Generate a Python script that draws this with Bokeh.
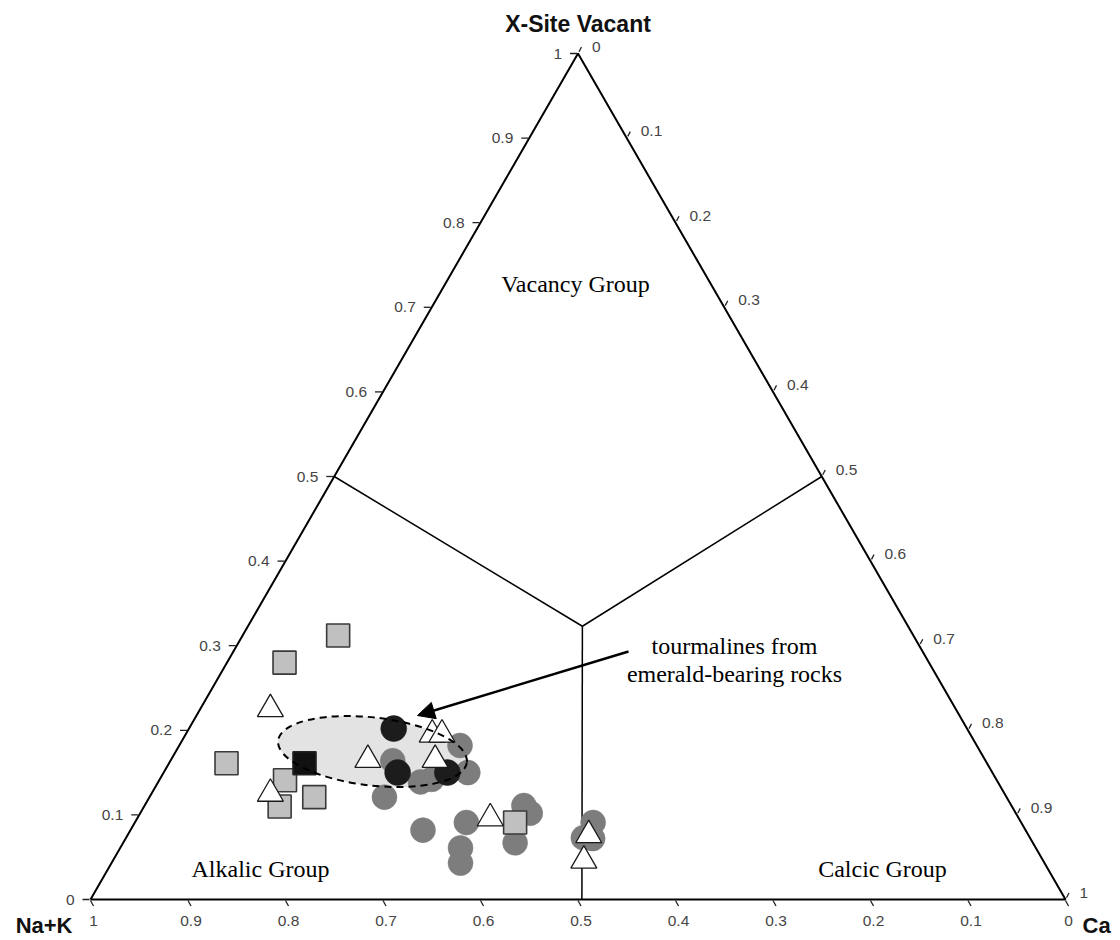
import numpy as np
from bokeh.plotting import figure
from bokeh.models import Range1d, Arrow, NormalHead
from bokeh.core.properties import value
from bokeh.embed import file_html
from bokeh.resources import INLINE

# ---- data: ternary fractions (Ca, X-site vacancy); Na+K = 1 - Ca - Vac ----
gray_circle_ca  = [0.228, 0.269, 0.279, 0.241, 0.288, 0.312, 0.300, 0.340, 0.349, 0.358,
                   0.389, 0.400, 0.402, 0.470, 0.469, 0.479]
gray_circle_vac = [0.164, 0.139, 0.142, 0.121, 0.182, 0.150, 0.082, 0.091, 0.061, 0.043,
                   0.111, 0.102, 0.067, 0.091, 0.073, 0.072]

black_circle_ca  = [0.210, 0.240, 0.291]
black_circle_vac = [0.202, 0.150, 0.150]

gray_square_ca  = [0.098, 0.059, 0.059, 0.129, 0.139, 0.169, 0.390]
gray_square_vac = [0.312, 0.280, 0.161, 0.141, 0.110, 0.121, 0.091]

black_square_ca  = [0.139]
black_square_vac = [0.161]

triangle_ca  = [0.072, 0.202, 0.122, 0.253, 0.263, 0.271, 0.362, 0.473, 0.483]
triangle_vac = [0.225, 0.165, 0.125, 0.195, 0.195, 0.165, 0.096, 0.076, 0.046]

# field boundaries: start points (Ca, Vac) and the common junction
boundary_start_ca  = [0.0, 0.5, 0.504]
boundary_start_vac = [0.5, 0.5, 0.0]
junction_ca, junction_vac = 0.343, 0.323

tick_values = [0.0, 0.1, 0.2, 0.3, 0.4, 0.5, 0.6, 0.7, 0.8, 0.9, 1.0]
tick_labels = ["0", "0.1", "0.2", "0.3", "0.4", "0.5", "0.6", "0.7", "0.8", "0.9", "1"]

# ---- ternary -> cartesian (triangle with base 0..1, apex at height 1) ----
def tx(ca, vac):
    return np.asarray(ca, float) + np.asarray(vac, float) / 2.0

def ty(vac):
    return np.asarray(vac, float)

PX_X = 975.0   # screen px per data unit (x)
PX_Y = 846.0   # screen px per data unit (y)
X0, Y0 = 90.0, 899.0   # page position of the Na+K corner

p = figure(width=1120, height=940, output_backend="svg", toolbar_location=None,
           x_range=Range1d((0 - X0) / PX_X, (1120 - X0) / PX_X),
           y_range=Range1d((Y0 - 940) / PX_Y, (Y0 - 0) / PX_Y),
           x_axis_location=None, y_axis_location=None, min_border=0)
p.grid.visible = False
p.outline_line_color = None
p.background_fill_color = "white"

def px(xp):
    return (xp - X0) / PX_X

def py(yp):
    return (Y0 - yp) / PX_Y

# ---- triangle frame ----
corner_ca = [0, 1, 0, 0]
corner_vac = [0, 0, 1, 0]
p.line(tx(corner_ca, corner_vac), ty(corner_vac), line_color="black", line_width=2)

# ---- field boundaries ----
jx, jy = float(tx(junction_ca, junction_vac)), float(ty(junction_vac))
p.segment(x0=tx(boundary_start_ca, boundary_start_vac), y0=ty(boundary_start_vac),
          x1=[jx] * 3, y1=[jy] * 3, line_color="black", line_width=1.5)

# ---- ticks ----
tv = np.array(tick_values)
tick_len = 8.0
lx = tx(0, tv); ly = ty(tv)
p.segment(x0=lx - 1 / PX_X, y0=ly, x1=lx - tick_len / PX_X, y1=ly, line_color="#222", line_width=1.3)
rx = tx(tv, 1 - tv); ry = ty(1 - tv)
p.segment(x0=rx + 1 / PX_X, y0=ry + 1.7 / PX_Y, x1=rx + 3.5 / PX_X, y1=ry + 6.5 / PX_Y,
          line_color="#222", line_width=1.3)
bx = tx(1 - tv, 0); by = ty(np.zeros_like(tv))
p.segment(x0=bx, y0=by - 1 / PX_Y, x1=bx + 3 / PX_X, y1=by - 6.5 / PX_Y,
          line_color="#222", line_width=1.3)

lab_font = value("Liberation Sans")
lab_col = "#454545"
p.text(x=lx, y=ly, text=tick_labels, text_align="right", text_baseline="middle",
       x_offset=-16, text_font=lab_font, text_font_size="15.5px", text_color=lab_col)
p.text(x=rx, y=ry, text=tick_labels, text_align="left", text_baseline="middle",
       x_offset=14, y_offset=-7, text_font=lab_font, text_font_size="15.5px", text_color=lab_col)
p.text(x=bx, y=by, text=tick_labels, text_align="center", text_baseline="middle",
       x_offset=3, y_offset=21, text_font=lab_font, text_font_size="15.5px", text_color=lab_col)

# ---- emerald field ellipse (fill under points) ----
ell_x, ell_y = px(372), py(751)
p.ellipse(x=[ell_x], y=[ell_y], width=190, height=68, angle=-0.115,
          width_units="screen", height_units="screen",
          fill_color="#e3e3e3", line_color=None)

# ---- points ----
p.scatter(tx(gray_circle_ca, gray_circle_vac), ty(gray_circle_vac), marker="circle",
          size=25, fill_color="#7d7d7d", line_color="#7d7d7d", line_width=0.5)
p.scatter(tx(black_circle_ca, black_circle_vac), ty(black_circle_vac), marker="circle",
          size=26, fill_color="#1c1c1c", line_color="#1c1c1c", line_width=0.5)
p.scatter(tx(gray_square_ca, gray_square_vac), ty(gray_square_vac), marker="square",
          size=23, fill_color="#c0c0c0", line_color="#3a3a3a", line_width=1.6)
p.scatter(tx(black_square_ca, black_square_vac), ty(black_square_vac), marker="square",
          size=23, fill_color="#111111", line_color="#222222", line_width=1.6)
p.scatter(tx(triangle_ca, triangle_vac), ty(triangle_vac), marker="triangle",
          size=26, fill_color="white", line_color="#1a1a1a", line_width=1.3)

# dashed outline on top
p.ellipse(x=[ell_x], y=[ell_y], width=190, height=68, angle=-0.115,
          width_units="screen", height_units="screen",
          fill_color=None, line_color="black", line_width=2, line_dash="7 5")

# ---- arrow ----
p.add_layout(Arrow(end=NormalHead(size=17, fill_color="black", line_color="black"),
                   x_start=px(628), y_start=py(651), x_end=px(417), y_end=py(715),
                   line_color="black", line_width=2.5))

# ---- text ----
serif = value("Liberation Serif")
p.text(x=[px(575)], y=[py(283)], text=["Vacancy Group"],
       text_align="center", text_baseline="middle", text_font=serif, text_font_size="24px", text_color="black")
p.text(x=[px(260), px(882)], y=[py(868)] * 2,
       text=["Alkalic Group", "Calcic Group"],
       text_align="center", text_baseline="middle", text_font=serif, text_font_size="24px", text_color="black")
p.text(x=[px(734)] * 2, y=[py(645), py(673)],
       text=["tourmalines from", "emerald-bearing rocks"],
       text_align="center", text_baseline="middle", text_font=serif, text_font_size="24px", text_color="black")

sans = value("Liberation Sans")
p.text(x=[tx(0, 1)], y=[ty(1)], text=["X-Site Vacant"], y_offset=-30,
       text_align="center", text_baseline="middle", text_font=sans, text_font_size="23px",
       text_font_style="bold", text_color="#111")
p.text(x=[tx(0, 0)], y=[ty(0)], text=["Na+K"], x_offset=-18, y_offset=26,
       text_align="right", text_baseline="middle", text_font=sans, text_font_size="22px",
       text_font_style="bold", text_color="#111")
p.text(x=[tx(1, 0)], y=[ty(0)], text=["Ca"], x_offset=17, y_offset=26,
       text_align="left", text_baseline="middle", text_font=sans, text_font_size="22px",
       text_font_style="bold", text_color="#111")

open("out.html", "w").write(file_html(p, INLINE))
